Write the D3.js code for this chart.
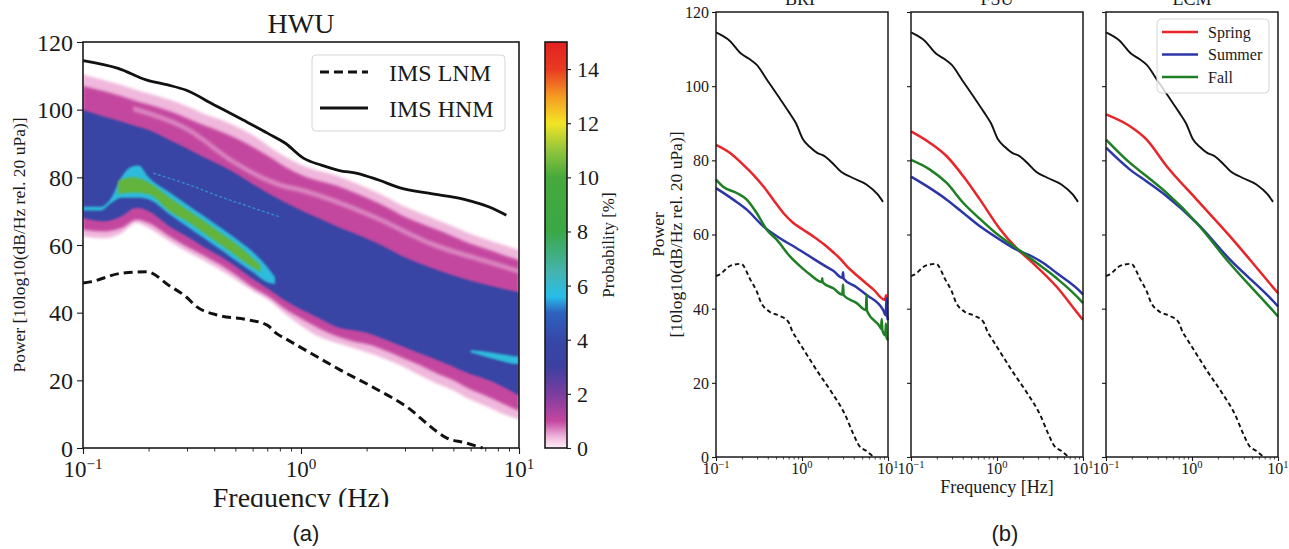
<!DOCTYPE html>
<html><head><meta charset="utf-8">
<script src="https://cdn.jsdelivr.net/npm/d3@7/dist/d3.min.js"></script>
<style>
html,body{margin:0;padding:0;background:#fff;}
svg{display:block;}
</style></head><body>
<svg id="chart" width="1289" height="549"></svg>
<script>
// ================= DATA =================
const majorTicks = [0.1, 1, 10];
const majorExp = ['\u22121', '0', '1'];
const minorTicks = [0.2,0.3,0.4,0.5,0.6,0.7,0.8,0.9,2,3,4,5,6,7,8,9];
const powerTicks = [0,20,40,60,80,100,120];
const cbTicks = [0,2,4,6,8,10,12,14];

// IMS noise models [Hz, dB]
const hnm = [[0.1,114.5],[0.145,112.2],[0.195,108.8],[0.245,107.3],[0.296,105.8],[0.40,101.4],[0.54,97],[0.705,93],[0.851,90],[1.03,85.6],[1.24,83.6],[1.5,82],[1.81,81.2],[2.27,79.2],[2.85,76.9],[3.85,75.3],[5.61,73.5],[7.59,70.8],[8.75,68.8]];
const lnm = [[0.1,48.8],[0.108,49.1],[0.148,51.6],[0.196,52.1],[0.25,47.9],[0.297,44.7],[0.333,41.7],[0.42,39.2],[0.56,38],[0.70,36.3],[0.774,33.8],[0.855,32.2],[1.11,28],[1.51,23.1],[2.19,17.6],[3.2,11.2],[3.85,6.8],[4.67,2.9],[5.63,1.6],[6.81,0]];

// Panel (a) PDF envelopes (dB) at envFreq
const envFreq    = [0.1,0.124,0.15,0.176,0.2,0.25,0.3,0.356,0.43,0.506,0.6,0.72,0.85,1.02,1.2,1.46,1.75,2.07,2.5,2.95,3.5,4.21,5,5.9,7.3,8.5,10];
const pinkTop    = [110.5,108.8,107.3,105.8,104.8,102.9,101,98.9,97,95,92.5,89,86,83.5,82,80.5,78.5,76.5,74,71.5,69.5,67.4,65.5,63.5,61.4,60,58.5];
const magTop     = [107,105.5,104,102.5,101.5,99.5,97.5,95.5,93.5,91.5,89,86,83,80.5,79,77.5,75.5,73.5,71,68.5,66.5,64.5,62.5,60.5,58.5,57,55.5];
const blueTop    = [100,98,96.5,95,94,91,88.5,86,83.5,81,78,75,72.5,70,68,65.5,63.5,61.5,59,56.5,54.5,52.6,51,49.6,48,47,46];
const blueBottom = [68,67,68.5,71,70,65.5,62.5,59.5,56.5,53.5,50,46.7,43.5,40.7,38.5,35.8,34.8,33.8,31.8,29.9,28,26,24,22,20,18,15.5];
const magBottom  = [64.5,64,65,67.5,66.5,62.5,59.5,57,54,51,47.5,44.5,41,38,35.5,33,31.5,30.5,28.5,26.5,24.5,22,20,17.5,15,13,11];
const pinkBottom = [62.5,62,63.5,66.5,65,61,58,55.5,52.5,49.6,46.5,43.5,39.5,35.8,33,31,29.5,28,26,24,21.5,19,17,14.5,12,10,8.5];
// light streak inside the upper magenta band
const streakFreq = [0.17,0.3,0.5,0.8,1.0,2.0,4.2,7,10];
const streakTop  = [101,95,85,78.5,77,70,60.5,56,53];
const streakBot  = [99.5,93.5,83.5,77,75.5,68.5,59,54.5,51.5];
// microbarom ridge
const ridgeFreq  = [0.1,0.12,0.135,0.15,0.165,0.18,0.2,0.25,0.3,0.36,0.43,0.5,0.6,0.7,0.76];
const cyanTop    = [71.3,71.3,74,80,83,83.5,80,75.5,72,68.5,65,62,58,53.5,50.5];
const cyanBottom = [70.2,70.2,72.5,74,74,74,73.5,69,65.5,62,58.5,55.5,52,49,48.5];
const greenFreq  = [0.145,0.17,0.2,0.25,0.3,0.36,0.43,0.5,0.58,0.65];
const greenTop   = [79,80,78.5,74,70.5,67,63.5,60.5,57,54];
const greenBottom= [75,75.5,75,70,67,63.5,60,57,54,52];
const patchFreq  = [6.0,7.0,8.2,9.2,10];
const patchTop   = [29,28.5,27.8,27.3,27];
const patchBottom= [28.2,27,25.8,25,24.8];
const cyanLine   = [[0.21,81.2],[0.3,78],[0.425,74.3],[0.6,71],[0.8,68.3]];
// probability level of each layer (%)
const layerProb = {pink:0.4, streak:0.2, magenta:1.0, blue:3.6, cyan:5.8, green:10.4};

// colour map (probability %)
const cbStops  = [0,0.4,1,2,3,4,5,5.6,6.5,8,10,11,12,13,14,15];
const cbColors = ['#fdf0f8','#f0b8dc','#c4479f','#7a3d9f','#3c40a0','#3548a8','#2e62c0','#28bde8','#44b4b0','#3aa845','#46a93c','#92c53c','#f3e424','#f59a22','#e83a22','#e32120'];

// Panel (b) seasonal medians
const stations = ['BRP','FSU','LCM'];
const seasons = ['Spring','Summer','Fall'];
const seasonColors = ['#e8262a','#2c36a8','#1f7f24'];
const brpSpring = [[0.1,84.2],[0.146,82],[0.208,78.8],[0.272,76.1],[0.355,73],[0.463,69.4],[0.607,65.8],[0.793,63.1],[1.035,61.3],[1.35,59.5],[1.77,57.5],[2.31,55.2],[2.77,53.5],[3.31,51.5],[4.33,49],[6.75,45.2],[9.2,42.4],[9.5,43.6],[9.7,41.9],[10,41.5]];
const brpSummer = [[0.1,72.5],[0.159,69.4],[0.228,66.7],[0.355,62.2],[0.555,59],[0.867,56.3],[1.35,53.5],[1.77,51.8],[2.31,50.2],[2.95,48.3],[3.0,49.8],[3.05,48.1],[4.3,45.8],[5.65,43.7],[8.8,39.6],[9.4,38.2],[9.6,42.8],[9.8,38],[10,36.9]];
const brpFall   = [[0.1,74.8],[0.122,72.8],[0.174,71.2],[0.228,69.4],[0.297,65.8],[0.389,61.3],[0.508,58.6],[0.725,54.1],[1.0,51],[1.24,49.2],[1.7,47.2],[1.72,48.2],[1.74,47.1],[2.31,45.5],[2.95,43.8],[3.0,46.5],[3.05,43.6],[4.33,41.5],[5.55,39.6],[5.62,43.8],[5.7,39.4],[8.07,35.1],[8.3,34.6],[8.45,37.2],[8.6,34.2],[9.3,32.8],[9.45,36],[9.6,32.4],[10,31.5]];
const fsuSpring = [[0.1,87.8],[0.166,84.7],[0.26,81.1],[0.406,75.7],[0.634,69.4],[1.08,61.5],[1.69,56.3],[2.42,53],[4.94,45.9],[9.66,37.4],[10,37]];
const fsuSummer = [[0.1,75.6],[0.166,72.5],[0.26,69.4],[0.406,65.8],[0.634,62.2],[1.08,58.6],[1.69,55.9],[2.5,54.2],[3.46,52.3],[4.94,49.6],[9.66,44.2],[10,43.8]];
const fsuFall   = [[0.1,80.1],[0.166,77.5],[0.26,73.9],[0.406,68.5],[0.634,64.2],[1.08,59.5],[1.69,56.3],[2.9,52.3],[4.94,48.2],[9.66,41.9],[10,41.5]];
const lcmSpring = [[0.1,92.4],[0.19,89.2],[0.297,85.6],[0.508,78.4],[1.135,69.4],[2.77,59.5],[4.72,53.2],[9.66,44.6],[10,44.2]];
const lcmSummer = [[0.1,83.4],[0.19,77.5],[0.297,74.3],[0.508,70.3],[1.135,63.1],[2.77,53.2],[9.66,41],[10,40.6]];
const lcmFall   = [[0.1,85.6],[0.19,79.3],[0.297,75.7],[0.508,71.2],[1.135,63.1],[2.53,53.2],[9.66,38.3],[10,37.9]];
const seasonData = [[brpSpring,brpSummer,brpFall],[fsuSpring,fsuSummer,fsuFall],[lcmSpring,lcmSummer,lcmFall]];
const legendALabels = ['IMS LNM','IMS HNM'];

// ================= DRAW =================
const FONT = '"Liberation Serif","DejaVu Serif","Times New Roman",serif';
const SANS = '"Liberation Sans",Arial,sans-serif';
const INK = '#1a1a1a';
const svg = d3.select('#chart');
const defs = svg.append('defs');

function styleAxis(g, fs){
  g.select('.domain').remove();
  g.selectAll('.tick line').attr('stroke', INK).attr('stroke-width', 1.1);
  g.selectAll('.tick text').attr('font-family', FONT).attr('font-size', fs).attr('fill', INK);
}
function sciLabels(g, x, y, fs){
  const t = g.selectAll('text.sci').data(majorTicks).join('text').attr('class','sci')
    .attr('x', d => x(d)).attr('y', y).attr('text-anchor','middle')
    .attr('font-family', FONT).attr('font-size', fs).attr('fill', INK);
  t.append('tspan').text('10');
  t.append('tspan').attr('dy', -0.36*fs).attr('font-size', fs*0.66).text(d => majorExp[majorTicks.indexOf(d)]);
}
function band(freqs, top, bot, x, y){
  return d3.area().x(i => x(freqs[i])).y0(i => y(bot[i])).y1(i => y(top[i]))
    .curve(d3.curveMonotoneX)(d3.range(freqs.length));
}

// ---------- PANEL (a) ----------
const A = {l:83, r:519, t:42, b:448};
const xA = d3.scaleLog().domain([0.1,10]).range([A.l, A.r]);
const yA = d3.scaleLinear().domain([0,120]).range([A.b, A.t]);
const cmap = d3.scaleLinear().domain(cbStops).range(cbColors);

defs.append('clipPath').attr('id','clipA').append('rect')
  .attr('x',A.l).attr('y',A.t).attr('width',A.r-A.l).attr('height',A.b-A.t);
defs.append('clipPath').attr('id','clipXl').append('rect')
  .attr('x',0).attr('y',0).attr('width',1289).attr('height',507);
const f1 = defs.append('filter').attr('id','soft').attr('x','-5%').attr('y','-5%').attr('width','110%').attr('height','110%');
f1.append('feGaussianBlur').attr('stdDeviation',1.6);
const f2 = defs.append('filter').attr('id','soft2').attr('x','-5%').attr('y','-5%').attr('width','110%').attr('height','110%');
f2.append('feGaussianBlur').attr('stdDeviation',0.8);

const gA = svg.append('g');
const heat = gA.append('g').attr('clip-path','url(#clipA)');
heat.append('path').attr('d', band(envFreq,pinkTop,pinkBottom,xA,yA)).attr('fill',cmap(layerProb.pink)).attr('filter','url(#soft)');
heat.append('path').attr('d', band(envFreq,magTop,magBottom,xA,yA)).attr('fill',cmap(layerProb.magenta)).attr('filter','url(#soft)');
heat.append('path').attr('d', band(streakFreq,streakTop,streakBot,xA,yA)).attr('fill',cmap(layerProb.streak)).attr('opacity',0.45).attr('filter','url(#soft)');
heat.append('path').attr('d', band(envFreq,blueTop,blueBottom,xA,yA)).attr('fill',cmap(layerProb.blue)).attr('filter','url(#soft2)');
heat.append('path').attr('d', band(ridgeFreq,cyanTop,cyanBottom,xA,yA)).attr('fill',cmap(layerProb.cyan)).attr('filter','url(#soft2)');
heat.append('path').attr('d', band(greenFreq,greenTop,greenBottom,xA,yA)).attr('fill',cmap(layerProb.green)).attr('filter','url(#soft2)');
heat.append('path').attr('d', band(patchFreq,patchTop,patchBottom,xA,yA)).attr('fill',cmap(layerProb.cyan)).attr('filter','url(#soft2)');
heat.append('path').attr('d', d3.line().x(d=>xA(d[0])).y(d=>yA(d[1])).curve(d3.curveMonotoneX)(cyanLine))
  .attr('fill','none').attr('stroke',cmap(layerProb.cyan)).attr('stroke-width',1.4).attr('stroke-dasharray','3,2').attr('opacity',0.6);

const lineA = d3.line().x(d => xA(d[0])).y(d => yA(d[1])).curve(d3.curveMonotoneX);
gA.append('path').attr('d', lineA(hnm)).attr('fill','none').attr('stroke','#111').attr('stroke-width',2.8);
gA.append('path').attr('d', lineA(lnm)).attr('fill','none').attr('stroke','#111').attr('stroke-width',3).attr('stroke-dasharray','9,5');

gA.append('rect').attr('x',A.l).attr('y',A.t).attr('width',A.r-A.l).attr('height',A.b-A.t)
  .attr('fill','none').attr('stroke',INK).attr('stroke-width',1.6);

const yAxA = gA.append('g').attr('transform',`translate(${A.l},0)`)
  .call(d3.axisLeft(yA).tickValues(powerTicks).tickSize(6).tickPadding(4));
styleAxis(yAxA, 24);
yAxA.selectAll('.tick text').attr('dy','0.34em');
const xAxA = gA.append('g').attr('transform',`translate(0,${A.b})`)
  .call(d3.axisBottom(xA).tickValues(majorTicks).tickSize(6).tickFormat(''));
styleAxis(xAxA, 23);
const xAxAm = gA.append('g').attr('transform',`translate(0,${A.b})`)
  .call(d3.axisBottom(xA).tickValues(minorTicks).tickSize(3.5).tickFormat(''));
styleAxis(xAxAm, 23);
xAxAm.selectAll('.tick line').attr('stroke-width',0.9);
sciLabels(gA, xA, 477, 23);

gA.append('text').attr('x',(A.l+A.r)/2).attr('y',33).attr('text-anchor','middle')
  .attr('font-family',FONT).attr('font-size',28).attr('fill',INK).text('HWU');
gA.append('text').attr('x',(A.l+A.r)/2).attr('y',507).attr('text-anchor','middle').attr('clip-path','url(#clipXl)')
  .attr('font-family',FONT).attr('font-size',28).attr('fill',INK).text('Frequency (Hz)');
gA.append('text').attr('transform',`translate(25,${(A.t+A.b)/2}) rotate(-90)`).attr('text-anchor','middle')
  .attr('font-family',FONT).attr('font-size',17.5).attr('fill',INK).text('Power [10log10(dB/Hz rel. 20 uPa)]');

// legend (a)
const LA = {x:312, y:55, w:193, h:76};
const lgA = gA.append('g');
lgA.append('rect').attr('x',LA.x).attr('y',LA.y).attr('width',LA.w).attr('height',LA.h).attr('rx',4)
  .attr('fill','#fff').attr('fill-opacity',0.85).attr('stroke','#d6d6d6').attr('stroke-width',1);
legendALabels.forEach((lab,i) => {
  const yy = LA.y + 17 + i*36;
  lgA.append('line').attr('x1',LA.x+8).attr('x2',LA.x+56).attr('y1',yy).attr('y2',yy)
    .attr('stroke','#111').attr('stroke-width',3).attr('stroke-dasharray', i===0 ? '9,5' : null);
  lgA.append('text').attr('x',LA.x+77).attr('y',yy+8.5).attr('font-family',FONT).attr('font-size',24).attr('fill',INK).text(lab);
});

// colorbar
const CB = {l:545, r:567, t:42, b:448};
const yCb = d3.scaleLinear().domain([0,15]).range([CB.b, CB.t]);
const grad = defs.append('linearGradient').attr('id','cbgrad').attr('x1',0).attr('y1',1).attr('x2',0).attr('y2',0);
cbStops.forEach((v,i) => grad.append('stop').attr('offset', v/15).attr('stop-color', cbColors[i]));
gA.append('rect').attr('x',CB.l).attr('y',CB.t).attr('width',CB.r-CB.l).attr('height',CB.b-CB.t)
  .attr('fill','url(#cbgrad)').attr('stroke',INK).attr('stroke-width',1.6);
const cbAx = gA.append('g').attr('transform',`translate(${CB.r},0)`)
  .call(d3.axisRight(yCb).tickValues(cbTicks).tickSize(4).tickPadding(6));
styleAxis(cbAx, 22);
cbAx.selectAll('.tick text').attr('dy','0.34em');
gA.append('text').attr('transform',`translate(614,${(CB.t+CB.b)/2}) rotate(-90)`).attr('text-anchor','middle')
  .attr('font-family',FONT).attr('font-size',17).attr('fill',INK).text('Probability [%]');

svg.append('text').attr('x',306).attr('y',541).attr('text-anchor','middle')
  .attr('font-family',SANS).attr('font-size',22).attr('fill',INK).text('(a)');

// ---------- PANEL (b) ----------
const B = {t:12, b:457, w:172, lefts:[716,911,1106]};
const yB = d3.scaleLinear().domain([0,120]).range([B.b, B.t]);
stations.forEach((st, si) => {
  const l = B.lefts[si];
  const xB = d3.scaleLog().domain([0.1,10]).range([l, l+B.w]);
  const g = svg.append('g');
  const lineB = d3.line().x(d => xB(d[0])).y(d => yB(d[1])).curve(d3.curveMonotoneX);
  g.append('path').attr('d', lineB(hnm)).attr('fill','none').attr('stroke','#111').attr('stroke-width',1.9);
  g.append('path').attr('d', lineB(lnm)).attr('fill','none').attr('stroke','#111').attr('stroke-width',1.9).attr('stroke-dasharray','4.5,3');
  seasonData[si].forEach((ser, k) => {
    g.append('path').attr('d', lineB(ser)).attr('fill','none').attr('stroke',seasonColors[k]).attr('stroke-width',2.5);
  });
  g.append('rect').attr('x',l).attr('y',B.t).attr('width',B.w).attr('height',B.b-B.t)
    .attr('fill','none').attr('stroke',INK).attr('stroke-width',1.5);
  const ya = g.append('g').attr('transform',`translate(${l},0)`)
    .call(d3.axisLeft(yB).tickValues(powerTicks).tickSize(4).tickPadding(3).tickFormat(si===0 ? d3.format('d') : ''));
  styleAxis(ya, 16);
  ya.selectAll('.tick text').attr('dy','0.34em');
  const xa = g.append('g').attr('transform',`translate(0,${B.b})`)
    .call(d3.axisBottom(xB).tickValues(majorTicks).tickSize(4).tickFormat(''));
  styleAxis(xa, 16);
  const xm = g.append('g').attr('transform',`translate(0,${B.b})`)
    .call(d3.axisBottom(xB).tickValues(minorTicks).tickSize(2.5).tickFormat(''));
  styleAxis(xm, 16);
  xm.selectAll('.tick line').attr('stroke-width',0.8);
  sciLabels(g, xB, 474, 16);
  g.append('text').attr('x', l + B.w/2).attr('y',5).attr('text-anchor','middle')
    .attr('font-family',FONT).attr('font-size',18).attr('fill',INK).text(st);
});
// legend (b)
const LB = {x:1157, y:19, w:112, h:74};
const lgB = svg.append('g');
lgB.append('rect').attr('x',LB.x).attr('y',LB.y).attr('width',LB.w).attr('height',LB.h).attr('rx',4)
  .attr('fill','#fff').attr('fill-opacity',0.8).attr('stroke','#d6d6d6').attr('stroke-width',1);
seasons.forEach((s,k) => {
  const yy = LB.y + 13 + k*22.5;
  lgB.append('line').attr('x1',LB.x+5).attr('x2',LB.x+41).attr('y1',yy).attr('y2',yy)
    .attr('stroke',seasonColors[k]).attr('stroke-width',2.5);
  lgB.append('text').attr('x',LB.x+51).attr('y',yy+5.5).attr('font-family',FONT).attr('font-size',16).attr('fill',INK).text(s);
});
svg.append('text').attr('transform',`translate(664,${(B.t+B.b)/2}) rotate(-90)`).attr('text-anchor','middle')
  .attr('font-family',FONT).attr('font-size',17.5).attr('fill',INK).text('Power');
svg.append('text').attr('transform',`translate(682,${(B.t+B.b)/2}) rotate(-90)`).attr('text-anchor','middle')
  .attr('font-family',FONT).attr('font-size',17.5).attr('fill',INK).text('[10log10(dB/Hz rel. 20 uPa)]');
svg.append('text').attr('x',B.lefts[1]+B.w/2).attr('y',493).attr('text-anchor','middle')
  .attr('font-family',FONT).attr('font-size',18).attr('fill',INK).text('Frequency [Hz]');
svg.append('text').attr('x',1005).attr('y',541).attr('text-anchor','middle')
  .attr('font-family',SANS).attr('font-size',22).attr('fill',INK).text('(b)');
</script>
</body></html>
